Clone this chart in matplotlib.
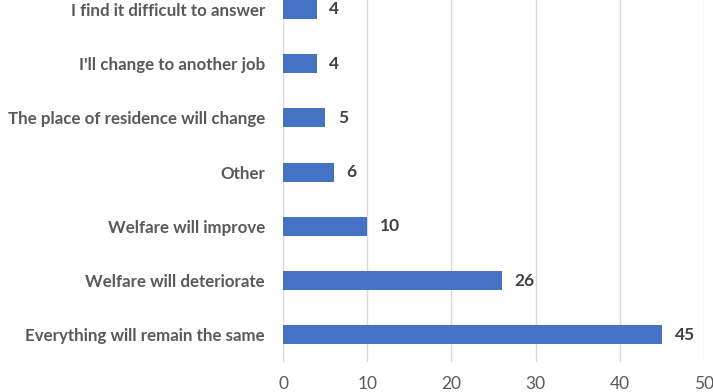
import matplotlib.pyplot as plt

categories = ['Everything will remain the same', 'Welfare will deteriorate', 'Welfare will improve',
              'Other', 'The place of residence will change', "I'll change to another job",
              'I find it difficult to answer']
values = [45, 26, 10, 6, 5, 4, 4]
xticks = [0, 10, 20, 30, 40, 50]

plt.rcParams['font.family'] = ['Lato', 'DejaVu Sans']

fig = plt.figure(figsize=(7.13, 3.92), dpi=100)
ax = fig.add_axes([0.397, 0.0765, 0.5905, 0.9685])

pos = list(range(len(categories)))
ax.barh(pos, values, height=0.35, color='#4472C4', zorder=3)
for p, v in zip(pos, values):
    ax.text(v + 1.5, p, str(v), va='center', ha='left', fontsize=12.5,
            fontweight='bold', color='#404040')

ax.set_xlim(0, 50)
ax.set_ylim(-0.5, 6.5)
ax.set_xticks(xticks)
ax.set_yticks(pos)
ax.set_yticklabels(categories, fontsize=12.2, fontweight='bold', color='#595959')
ax.tick_params(axis='x', labelsize=12.5, labelcolor='#595959', length=0, pad=10)
ax.tick_params(axis='y', length=0, pad=13)
ax.grid(axis='x', color='#D9D9D9', linewidth=1, zorder=0)
for s in ax.spines.values():
    s.set_visible(False)

fig.savefig('out.png', dpi=100)
